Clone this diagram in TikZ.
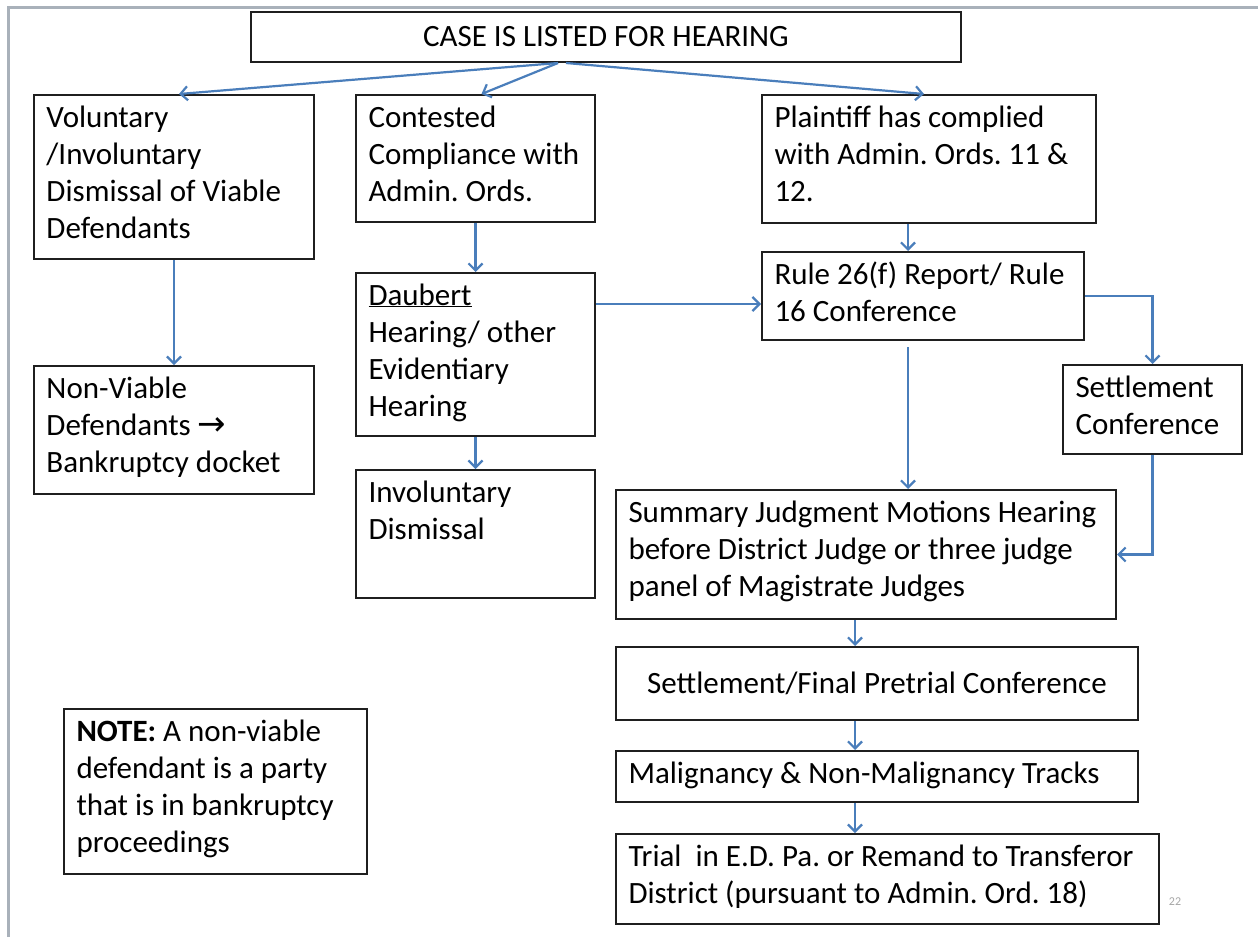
\documentclass[tikz,border=0pt]{standalone}
\usepackage{fontspec}
\setmainfont{Carlito}
\newfontfamily\dejavu{DejaVu Sans}
\usetikzlibrary{arrows.meta,calc}
\definecolor{arrowblue}{HTML}{4A7EBB}
\definecolor{framegray}{HTML}{A9B1BA}
\frenchspacing
\newcommand{\tbox}[3]{\parbox[c][#2pt][t]{#1pt}{\raggedright\leftskip=12.5pt\rule{0pt}{32pt}#3}}
\newcommand{\cbox}[3]{\parbox[c][#2pt][c]{#1pt}{\centering #3}}
\begin{document}
\begin{tikzpicture}[x=1pt,y=-1pt,
  font=\fontsize{31}{37}\selectfont,
  box/.style={draw=black!88, line width=2pt, inner sep=0pt, anchor=north west, fill=white},
  arr/.style={draw=arrowblue, line width=2.2pt, -{Straight Barb[length=7pt,width=14pt]}}]
\useasboundingbox (0,0) rectangle (1258,937);
\fill[white] (0,0) rectangle (1258,937);
\draw[framegray, line width=3pt] (8,937) -- (8,7) -- (1258,7);

\node[box] (top) at (250,11) {\cbox{710}{50}{CASE IS LISTED FOR HEARING}};
\node[box] (vol) at (33,94) {\tbox{280}{164}{Voluntary\\/Involuntary\\Dismissal of Viable\\Defendants}};
\node[box] (cont) at (355,94) {\tbox{239}{127}{Contested\\Compliance with\\Admin. Ords.}};
\node[box] (plain) at (761,94) {\tbox{334}{128}{Plaintiff has complied\\with Admin. Ords. 11 \&\\12.}};
\node[box] (daub) at (355,272) {\tbox{239}{163}{\underline{Daubert}\\Hearing/ other\\Evidentiary\\Hearing}};
\node[box] (rule) at (761,251) {\tbox{322}{88}{Rule 26(f) Report/ Rule\\16 Conference}};
\node[box] (nonv) at (33,365) {\tbox{280}{128}{Non-Viable\\Defendants {\dejavu\fontsize{34}{37}\selectfont →}\\Bankruptcy docket}};
\node[box] (invol) at (355,469) {\tbox{239}{128}{Involuntary\\Dismissal}};
\node[box] (settle) at (1062,364) {\tbox{179}{89}{Settlement\\Conference}};
\node[box] (summ) at (615,489) {\tbox{500}{129}{Summary Judgment Motions Hearing\\before District Judge or three judge\\panel of Magistrate Judges}};
\node[box] (sfin) at (615,646) {\cbox{522}{73}{Settlement/Final Pretrial Conference}};
\node[box] (malig) at (615,750) {\tbox{522}{51}{Malignancy \& Non-Malignancy Tracks}};
\node[box] (trial) at (615,833) {\tbox{543}{90}{Trial\ \ in E.D. Pa. or Remand to Transferor\\District (pursuant to Admin. Ord. 18)}};
\node[box] (note) at (63,708) {\tbox{303}{165}{\textbf{NOTE:} A non-viable\\defendant is a party\\that is in bankruptcy\\proceedings}};
\node[font=\fontsize{12}{14}\selectfont, text=gray!70] (num) at (1175,902) {22};

% connectors
\coordinate (cx) at (855,0);
\coordinate (rx) at (908,0);
\coordinate (h1) at ([yshift=-8pt]rule.west);
\draw[arr] ([xshift=-48pt]top.south) -- ([xshift=5pt]vol.north);
\draw[arr] ([xshift=-48pt]top.south) -- ([xshift=6pt]cont.north);
\draw[arr] ([xshift=-40pt]top.south) -- ([xshift=-5pt]plain.north);
\draw[arr] (vol.south) -- (nonv.north);
\draw[arr] (cont.south) -- (daub.north);
\draw[arr] (plain.south -| rx) -- (rule.north -| rx);
\draw[arr] (daub.east |- h1) -- (h1);
\draw[arr] (daub.south) -- (invol.north);
\draw[arr, shorten <=6pt] (rule.south -| rx) -- (summ.north -| rx);
\draw[arr] (rule.east) -| (settle.north);
\draw[arr] (settle.south) |- (summ.east);
\draw[arr] (summ.south -| cx) -- (sfin.north -| cx);
\draw[arr] (sfin.south -| cx) -- (malig.north -| cx);
\draw[arr] (malig.south -| cx) -- (trial.north -| cx);
\end{tikzpicture}
\end{document}
